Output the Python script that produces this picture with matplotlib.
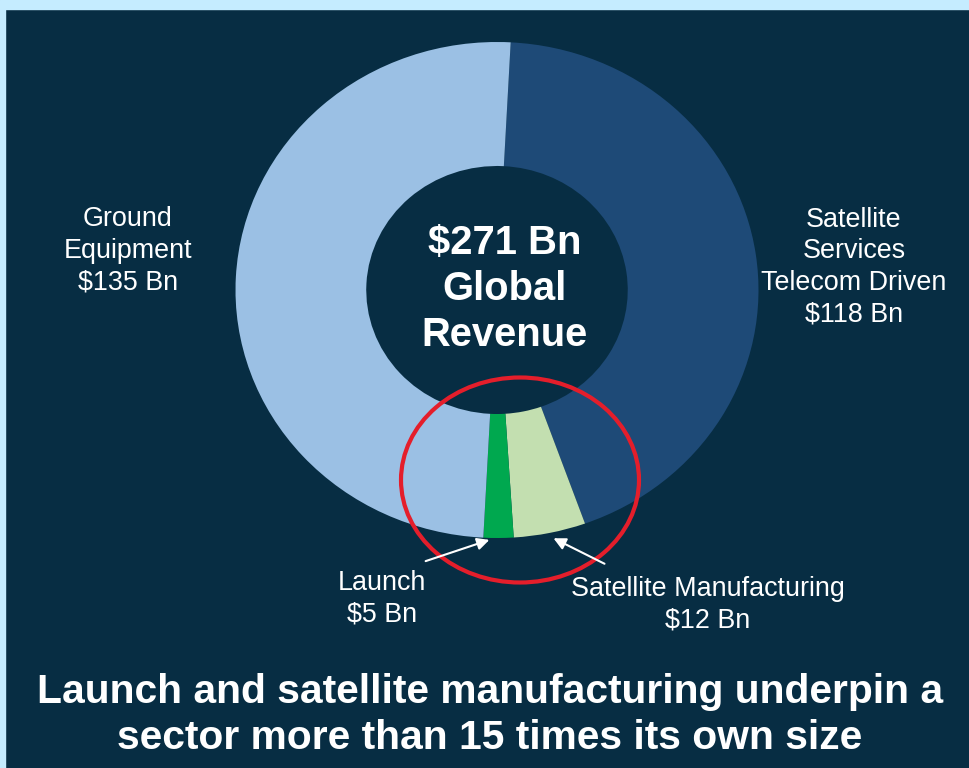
import matplotlib.pyplot as plt
from matplotlib.patches import Ellipse, Rectangle

# data
segments = ["Satellite Services", "Satellite Manufacturing", "Launch", "Ground Equipment"]
revenue = [118, 12, 5, 135]
colors = ["#1e4a77", "#c3dfb0", "#00a84f", "#9bc0e4"]
total_label = "$271 Bn\nGlobal\nRevenue"
title = "Launch and satellite manufacturing underpin a\nsector more than 15 times its own size"

bg = "#072d43"
W, H = 969, 768

fig = plt.figure(figsize=(W / 100, H / 100), dpi=100, facecolor=bg)

# donut, placed in its own axes (slightly wider than tall, like the original)
cx, cy, rx, ry = 497, 290, 261.5, 248
pax = fig.add_axes([(cx - rx) / W, 1 - (cy + ry) / H, 2 * rx / W, 2 * ry / H])
pax.pie(revenue, colors=colors, startangle=87, counterclock=False,
        wedgeprops=dict(width=0.5, edgecolor="none", linewidth=0))
pax.set_aspect("auto")
pax.set_xlim(-1, 1)
pax.set_ylim(-1, 1)
pax.axis("off")

# overlay in pixel coordinates for labels and annotations
ax = fig.add_axes([0, 0, 1, 1], facecolor="none")
ax.set_xlim(0, W)
ax.set_ylim(H, 0)
ax.axis("off")

# light border strips
ax.add_patch(Rectangle((0, 0), W, 9, color="#c5ecff", zorder=0))
ax.add_patch(Rectangle((0, 0), 5, H, color="#c5ecff", zorder=0))

font = "Liberation Sans"
lab = dict(color="white", ha="center", va="center", family=font, fontsize=19.4, linespacing=1.28)
ax.text(128, 251, "Ground\nEquipment\n$135 Bn", **lab)
ax.text(854, 267, "Satellite\nServices\nTelecom Driven\n$118 Bn", **lab)
ax.text(382, 599, "Launch\n$5 Bn", **lab)
ax.text(708, 605, "Satellite Manufacturing\n$12 Bn", **lab)

ax.text(505, 289, total_label, color="white", ha="center", va="center", family=font,
        fontsize=28.8, fontweight="bold", linespacing=1.28)

ax.text(490, 715, title, color="white", ha="center", va="center", family=font,
        fontsize=29.3, fontweight="bold", linespacing=1.28)

# highlight ring and arrows
ax.add_patch(Ellipse((520, 480), 238, 205, fill=False, edgecolor="#e41e2b", linewidth=3))
arrow = dict(arrowstyle="-|>", color="white", lw=1.5, mutation_scale=18)
ax.annotate("", xy=(492, 539), xytext=(423, 562), arrowprops=arrow)
ax.annotate("", xy=(551, 537), xytext=(607, 565), arrowprops=arrow)

fig.savefig("out.png", dpi=100, facecolor=bg)
